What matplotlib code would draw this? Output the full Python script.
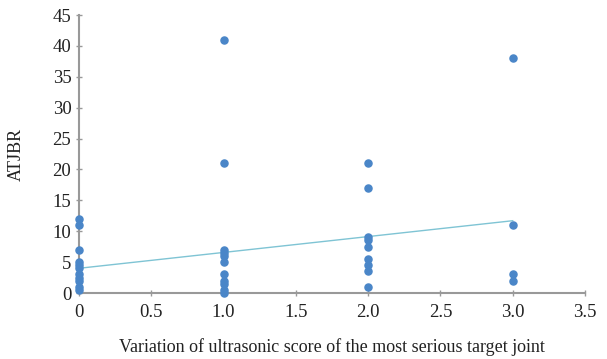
import matplotlib
matplotlib.use("Agg")
import matplotlib.pyplot as plt
import numpy as np

x_vals = [0]*11 + [1]*11 + [2]*9 + [3]*4
y_vals = ([12, 11, 7, 5, 4.5, 4, 3, 2.5, 2, 1, 0.5] +
          [41, 21, 7, 6.5, 6, 5, 3, 2, 1.5, 0.5, 0] +
          [21, 17, 9, 8.5, 7.5, 5.5, 4.5, 3.5, 1] +
          [38, 11, 3, 2])
trend_x = [0, 3]
trend_y = [4, 11.7]
xticks = [0, 0.5, 1.0, 1.5, 2.0, 2.5, 3.0, 3.5]
xticklabels = ["0", "0.5", "1.0", "1.5", "2.0", "2.5", "3.0", "3.5"]
yticks = [0, 5, 10, 15, 20, 25, 30, 35, 40, 45]

plt.rcParams['font.family'] = ['Liberation Serif']
fig = plt.figure(figsize=(6.07, 3.59), dpi=100)
ax = fig.add_axes([79/607, 1-293/359, (585-79)/607, (293-15)/359])
ax.plot(trend_x, trend_y, color="#7fc4d4", lw=1.0, zorder=2)
ax.scatter(x_vals, y_vals, s=26, color="#4a86c8", zorder=3, clip_on=False)
ax.set_xlim(0, 3.5)
ax.set_ylim(0, 45)
ax.set_xticks(xticks)
ax.set_xticklabels(xticklabels)
ax.set_yticks(yticks)
for s in ["top", "right"]:
    ax.spines[s].set_visible(False)
for s in ["left", "bottom"]:
    ax.spines[s].set_color("#999999")
    ax.spines[s].set_linewidth(1.5)
ax.tick_params(axis="both", colors="#999999", labelcolor="#222222", labelsize=13.5, length=4, direction="inout", width=1)
ax.tick_params(axis="x", pad=6)
ax.set_xlabel("Variation of ultrasonic score of the most serious target joint", fontsize=13, color="#222222", labelpad=12)
ax.set_ylabel("ATJBR", fontsize=13, color="#222222", labelpad=20)
fig.savefig("out.png", dpi=100)
